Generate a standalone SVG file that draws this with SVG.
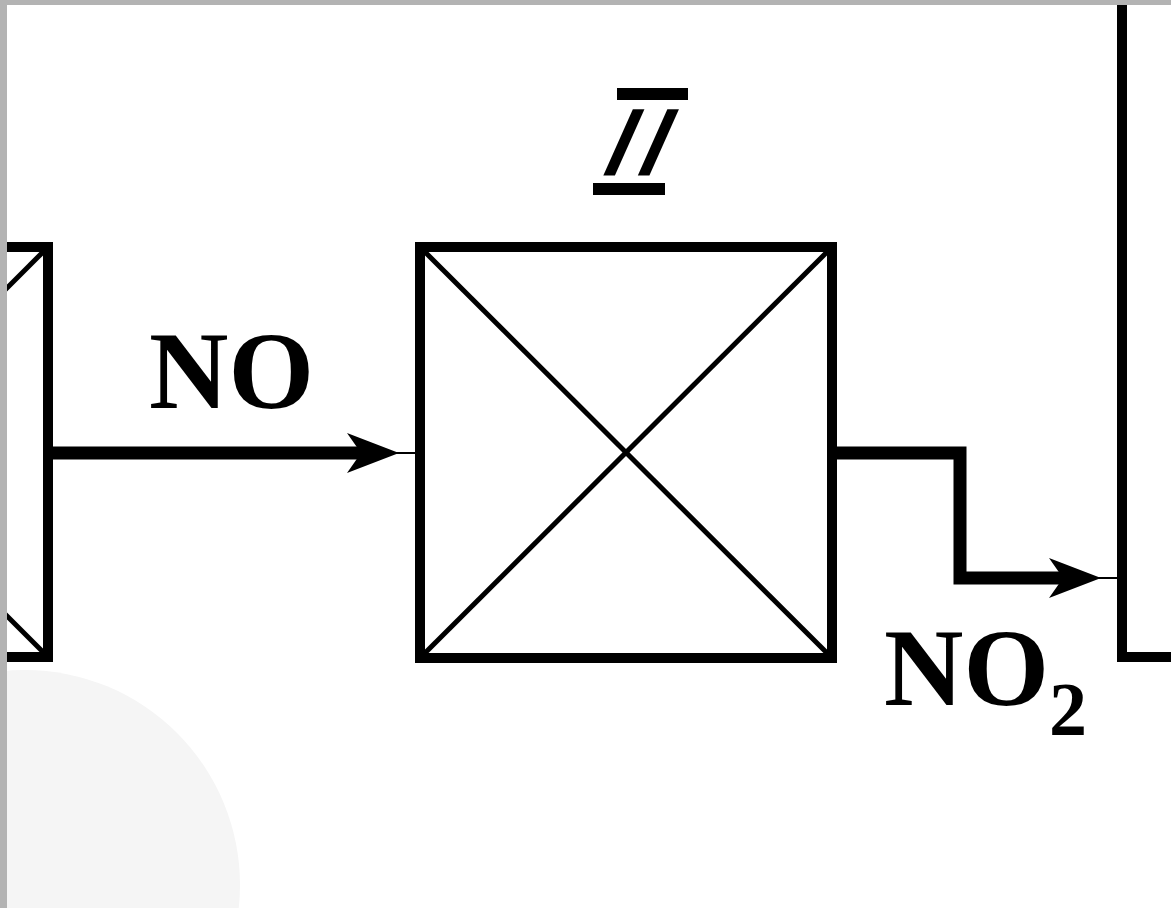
<svg xmlns="http://www.w3.org/2000/svg" width="1171" height="908" viewBox="0 0 1171 908">
  <style>
    .box { fill: none; stroke: #000; stroke-width: 10; }
    .diag { stroke: #000; stroke-width: 5; }
    .flow { fill: none; stroke: #000; stroke-width: 13; stroke-linejoin: miter; }
    .thin { stroke: #000; stroke-width: 2; }
    .lbl { font-family: "Liberation Serif", "Times New Roman", serif; font-weight: bold; fill: #000; }
  </style>
  <defs>
    <path id="head" d="M0,0 L-52,-20 L-38,0 L-52,20 Z" fill="#000"/>
  </defs>
  <rect width="1171" height="908" fill="#fff"/>
  <circle cx="25" cy="885" r="215" fill="#f5f5f5"/>

  <g id="node-left">
    <rect class="box" x="-362" y="247" width="410" height="410"/>
    <line class="diag" x1="48" y1="247" x2="-362" y2="657"/>
    <line class="diag" x1="48" y1="657" x2="-362" y2="247"/>
  </g>

  <g id="node-II">
    <rect class="box" x="420" y="247" width="412" height="411"/>
    <line class="diag" x1="420" y1="247" x2="832" y2="658"/>
    <line class="diag" x1="832" y1="247" x2="420" y2="658"/>
    <rect x="617" y="88" width="71" height="12" fill="#000"/>
    <rect x="593" y="183" width="72" height="12" fill="#000"/>
    <text transform="translate(597,174) skewX(-24)" font-family="Liberation Sans, Arial, sans-serif" font-size="92" letter-spacing="9" fill="#000" stroke="#000" stroke-width="3">II</text>
  </g>

  <g id="node-right">
    <polyline class="box" points="1122,0 1122,657 1180,657"/>
  </g>

  <g id="connectors">
    <line class="flow" x1="48" y1="453" x2="370" y2="453"/>
    <use href="#head" x="399" y="453"/>
    <line class="thin" x1="395" y1="453" x2="420" y2="453"/>
    <polyline class="flow" points="832,453 960,453 960,578 1070,578"/>
    <use href="#head" x="1101" y="578"/>
    <line class="thin" x1="1097" y1="578" x2="1122" y2="578"/>
  </g>

  <g id="labels">
    <text class="lbl" x="149" y="408" font-size="110">NO</text>
    <text class="lbl" x="884" y="705" font-size="110">NO<tspan font-size="76" dy="30">2</tspan></text>
  </g>

  <rect x="0" y="0" width="1171" height="5" fill="#b3b3b3"/>
  <rect x="0" y="0" width="7" height="908" fill="#b3b3b3"/>
</svg>
